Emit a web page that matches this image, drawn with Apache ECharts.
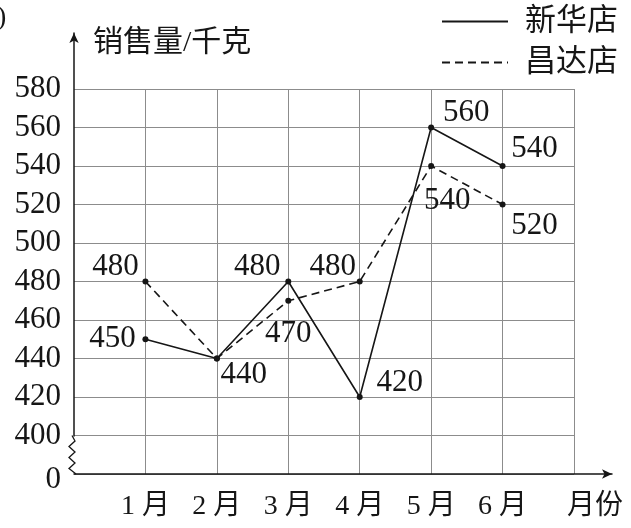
<!DOCTYPE html>
<html><head><meta charset="utf-8">
<script src="https://cdn.jsdelivr.net/npm/echarts@6/dist/echarts.min.js"></script>
<style>html,body{margin:0;padding:0;background:#fff}#c{width:631px;height:528px}</style>
</head><body><div id="c"></div>
<script>
// ---- data ----
const months = ['1 月', '2 月', '3 月', '4 月', '5 月', '6 月'];
const xinhua = [450, 440, 480, 420, 560, 540];
const changda = [480, 440, 470, 480, 540, 520];
const seriesNames = ['新华店', '昌达店'];
const yMin = 380, yMax = 580, yStep = 20;   // 380 is drawn as "0" (broken axis)
const yBreakTop = 400;
const yName = '销售量/千克';
const xName = '月份';

// ---- styling (label offsets in px) ----
const xinhuaLabelOffset = [[-33, 0], [27, 16], [-31, -15], [40, -14], [35, -15], [32, -17]];
const changdaLabelOffset = [[-30, -15], null, [0, 33], [-27, -15], [16, 35], [32, 21]];

const FONT = "'Liberation Serif','Noto Sans CJK SC',serif";
const INK = '#161616';
const GRID = '#8c8c8c';
const NUM = 31;

const xData = [''].concat(months, ['']);
function build(values, offsets) {
  return ['-'].concat(values.map(function (v, i) {
    const o = offsets[i];
    return { value: v, label: o ? { show: true, position: 'inside', offset: o } : { show: false } };
  }));
}

const chart = echarts.init(document.getElementById('c'));
chart.setOption({
  animation: false,
  backgroundColor: '#fff',
  graphic: [{ type: 'text', left: -3, top: 4, style: { text: ')', font: "28px 'Liberation Serif'", fill: INK } }],
  legend: {
    orient: 'vertical', right: 8, top: 1, itemWidth: 66, itemHeight: 14, itemGap: 10,
    selectedMode: false, data: seriesNames,
    itemStyle: { opacity: 0 },
    textStyle: { fontSize: 31, fontFamily: FONT, color: INK, padding: [0, 0, 0, 12] }
  },
  grid: [
    { left: 74, right: 57, top: 89, bottom: 54 },
    { left: 74, width: 10, top: 33, bottom: 92 },
    { left: 74, right: 19, top: 33, bottom: 54 }
  ],
  xAxis: [
    {
      gridIndex: 0, type: 'category', data: xData, boundaryGap: false,
      axisLine: { show: false }, axisTick: { show: false },
      axisLabel: { fontSize: 28, fontFamily: FONT, color: INK, margin: 19 },
      splitLine: { show: true, interval: function (i) { return i !== 0; }, lineStyle: { color: GRID, width: 1 } }
    },
    { gridIndex: 1, type: 'value', show: false },
    {
      gridIndex: 2, type: 'value', min: 0, max: 1,
      axisLine: { show: true, onZero: false, symbol: ['none', 'arrow'], symbolSize: [7, 10], lineStyle: { color: INK, width: 1.5 } },
      axisTick: { show: false }, axisLabel: { show: false }, splitLine: { show: false },
      name: xName, nameLocation: 'end', nameGap: -45,
      nameTextStyle: { fontSize: 28, fontFamily: FONT, color: INK, align: 'left', verticalAlign: 'top', padding: [19, 0, 0, 0] }
    }
  ],
  yAxis: [
    {
      gridIndex: 0, type: 'value', min: yMin, max: yMax, interval: yStep,
      axisLine: { show: false }, axisTick: { show: false },
      axisLabel: {
        fontSize: NUM, fontFamily: FONT, color: INK, margin: 13,
        formatter: function (v) { return v === yMin ? '{z|0}' : String(v); },
        rich: { z: { fontSize: NUM, fontFamily: FONT, color: INK, padding: [12, 0, 0, 0] } }
      },
      splitLine: { show: true, lineStyle: { color: GRID, width: 1 } },
      name: yName, nameLocation: 'end', nameGap: 31,
      nameTextStyle: { fontSize: 30, fontFamily: FONT, color: INK, align: 'left', verticalAlign: 'bottom', padding: [0, 0, 0, 19] }
    },
    {
      gridIndex: 1, type: 'value', min: 0, max: 1,
      axisLine: { show: true, onZero: false, symbol: ['none', 'arrow'], symbolSize: [7, 10], lineStyle: { color: INK, width: 1.5 } },
      axisTick: { show: false }, axisLabel: { show: false }, splitLine: { show: false }
    },
    { gridIndex: 2, type: 'value', show: false }
  ],
  series: [
    {
      type: 'line', name: seriesNames[0], xAxisIndex: 0, yAxisIndex: 0,
      data: build(xinhua, xinhuaLabelOffset),
      symbol: 'circle', symbolSize: 6, itemStyle: { color: INK },
      lineStyle: { color: INK, width: 1.6, type: 'solid' },
      label: { fontSize: NUM, fontFamily: FONT, color: INK },
      emphasis: { disabled: true }, silent: true, z: 5
    },
    {
      type: 'line', name: seriesNames[1], xAxisIndex: 0, yAxisIndex: 0,
      data: build(changda, changdaLabelOffset),
      symbol: 'circle', symbolSize: 6, itemStyle: { color: INK },
      lineStyle: { color: INK, width: 1.6, type: [8, 5] },
      label: { fontSize: NUM, fontFamily: FONT, color: INK },
      emphasis: { disabled: true }, silent: true, z: 4
    },
    {
      type: 'custom', xAxisIndex: 0, yAxisIndex: 0, data: [[0, yMin]], silent: true, z: 6,
      renderItem: function (params, api) {
        const top = api.coord([0, yBreakTop]);
        const bot = api.coord([0, yMin]);
        const wig = [-2, 1, -5, 1, -5, 1, -5, 2];
        const pts = wig.map(function (dx, i) {
          return [top[0] + dx, top[1] + (bot[1] - top[1]) * i / (wig.length - 1)];
        });
        return { type: 'polyline', shape: { points: pts }, style: { stroke: INK, lineWidth: 1.3, fill: null } };
      }
    }
  ]
});
</script>
</body></html>
